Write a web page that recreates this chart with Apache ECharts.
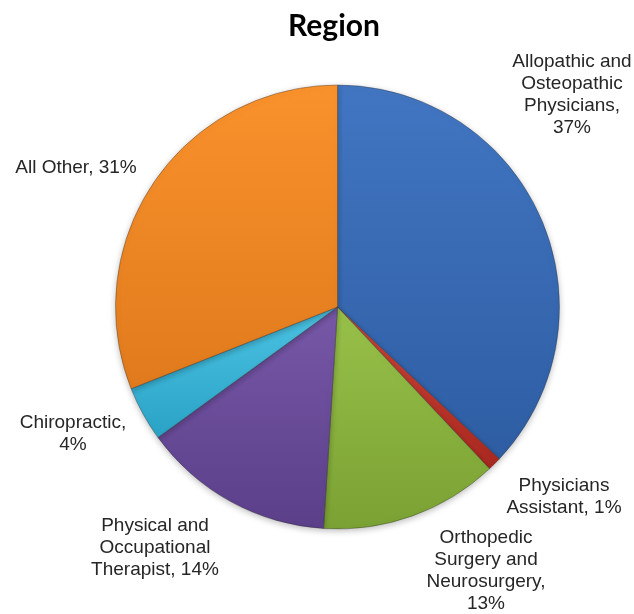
<!DOCTYPE html>
<html>
<head>
<meta charset="utf-8">
<title>Region</title>
<script src="https://cdn.jsdelivr.net/npm/echarts@6/dist/echarts.min.js"></script>
<style>
  html, body { margin: 0; padding: 0; background: #fff; }
  #chart { width: 634px; height: 614px; }
</style>
</head>
<body>
<div id="chart"></div>
<script>
// categories (with the line breaks used in the labels)
var categories = [
  'Allopathic and\nOsteopathic\nPhysicians',
  'Physicians\nAssistant',
  'Orthopedic\nSurgery and\nNeurosurgery',
  'Physical and\nOccupational\nTherapist',
  'Chiropractic',
  'All Other'
];
// share of each category, percent
var shares = [37, 1, 13, 14, 4, 31];
// separator between name and percent in each label
var separators = [',\n', ', ', ',\n', ', ', ',\n', ', '];

var colors = [
  ['#4276c2', '#2e5da3'],
  ['#d0463a', '#a8281f'],
  ['#98c14a', '#7aa133'],
  ['#7758a8', '#5b3f89'],
  ['#4cc3e3', '#2aa2c6'],
  ['#f9922c', '#e07a1c']
];
// label centres, px
var labelPos = [[572, 95], [564, 497], [486, 571], [155, 548], [73, 434], [76, 168]];

var myChart = echarts.init(document.getElementById('chart'));

var seriesData = categories.map(function (name, i) {
  return {
    name: name,
    value: shares[i],
    itemStyle: {
      color: new echarts.graphic.LinearGradient(0, 0, 0, 1, [
        { offset: 0, color: colors[i][0] },
        { offset: 1, color: colors[i][1] }
      ])
    }
  };
});

var option = {
  backgroundColor: '#ffffff',
  animation: false,
  title: {
    text: 'Region',
    left: 329,
    top: 6,
    textAlign: 'center',
    textStyle: {
      fontFamily: 'Lato',
      fontWeight: 'bold',
      fontSize: 30,
      color: '#000000'
    }
  },
  series: [
    {
      type: 'pie',
      center: [337.5, 307],
      radius: [0, 222],
      startAngle: 90,
      clockwise: true,
      percentPrecision: 0,
      data: seriesData,
      itemStyle: {
        borderColor: 'rgba(40,40,40,0.35)',
        borderWidth: 1,
        shadowColor: 'rgba(0,0,0,0.25)',
        shadowBlur: 6,
        shadowOffsetY: 2
      },
      label: {
        show: true,
        position: 'outside',
        overflow: 'none',
        fontFamily: 'Liberation Sans',
        fontSize: 19,
        lineHeight: 22,
        color: '#262626',
        align: 'center',
        formatter: function (p) {
          return p.name + separators[p.dataIndex] + p.percent + '%';
        }
      },
      labelLine: { show: false },
      labelLayout: function (p) {
        var c = labelPos[p.dataIndex];
        return { x: c[0], y: c[1], align: 'center', verticalAlign: 'middle' };
      },
      emphasis: { disabled: true }
    }
  ]
};

myChart.setOption(option);
</script>
</body>
</html>
